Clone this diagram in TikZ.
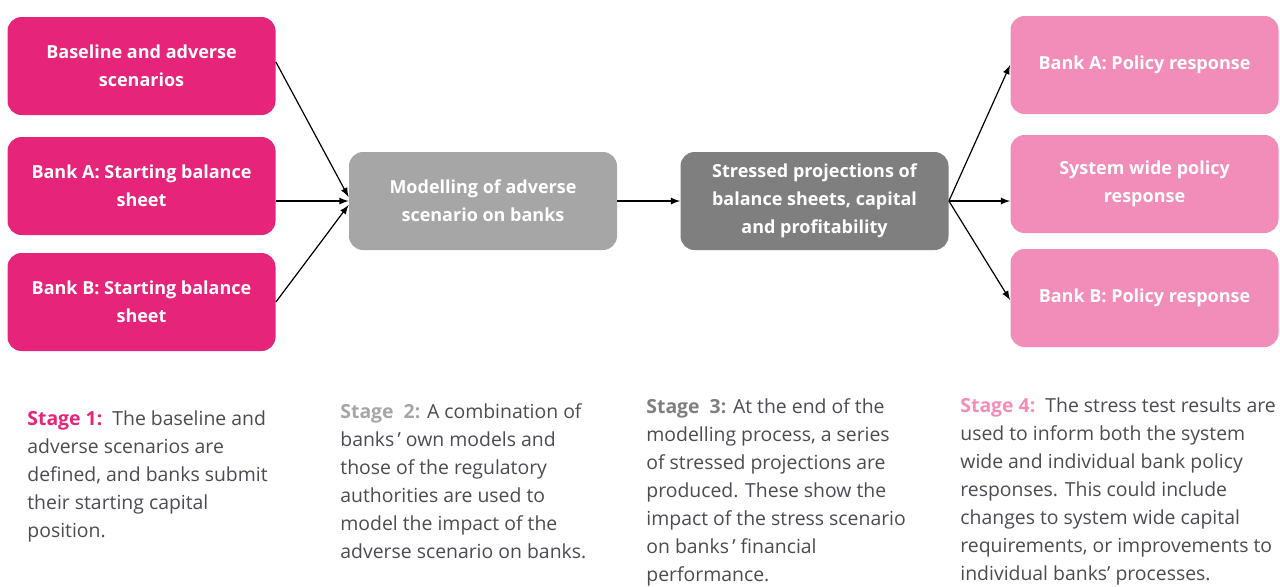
\documentclass[tikz,border=0pt]{standalone}
\usepackage{fontspec}
\setmainfont{Open Sans}
\usepackage{tikz}
\definecolor{stpink}{HTML}{E6247A}
\definecolor{stlight}{HTML}{F28DB9}
\definecolor{stgrey}{HTML}{A6A6A6}
\definecolor{stdark}{HTML}{7F7F7F}
\definecolor{sttext}{HTML}{4B4B53}
\begin{document}
\begin{tikzpicture}[x=0.5pt,y=-0.5pt,
  box/.style={rounded corners=7pt,minimum width=134pt,minimum height=49pt,
    text=white,align=center,font=\bfseries\fontsize{9}{14}\selectfont,inner sep=2pt},
  stagetext/.style={anchor=north west,align=left,inner sep=0pt,text=sttext,
    font=\fontsize{9.7}{14}\selectfont},
  link/.style={-latex,line width=0.6pt}]
\useasboundingbox (0,0) rectangle (1280,586);
\node[box,fill=stpink](scen) at (141.5,66){Baseline and adverse\\scenarios};
\node[box,fill=stpink](bankA) at (141.5,186){Bank A: Starting balance\\sheet};
\node[box,fill=stpink](bankB) at (141.5,302){Bank B: Starting balance\\sheet};
\node[box,fill=stgrey](model) at (483,201){Modelling of adverse\\scenario on banks};
\node[box,fill=stdark](proj) at (814.5,201){Stressed projections of\\balance sheets, capital\\and profitability};
\node[box,fill=stlight](polA) at (1144.5,65){Bank A: Policy response};
\node[box,fill=stlight](polS) at (1144.5,184){System wide policy\\response};
\node[box,fill=stlight](polB) at (1144.5,298){Bank B: Policy response};
\draw[link] (scen.east|-0,62) -- ([yshift=2pt]model.west);
\draw[link] (bankA.east|-model.west) -- (model.west);
\draw[link] (bankB.east|-0,302) -- ([yshift=-2pt]model.west);
\draw[link] (model) -- (proj);
\draw[link] (proj.east) -- (polA.west|-0,65);
\draw[link] (proj.east) -- (polS.west|-proj.east);
\draw[link] (proj.east) -- (polB.west|-0,300);
\node[stagetext](st1) at (27,410){\textcolor{stpink}{\bfseries Stage 1:}\ \ The baseline and\\adverse scenarios are\\defined, and banks submit\\their starting capital\\position.};
\node[stagetext](st2) at (340,403){\textcolor{stgrey}{\bfseries Stage\ \ 2:} A combination of\\banks\,’ own models and\\those of the regulatory\\authorities are used to\\model the impact of the\\adverse scenario on banks.};
\node[stagetext](st3) at (646,398){\textcolor{stdark}{\bfseries Stage\ \ 3:} At the end of the\\modelling process, a series\\of stressed projections are\\produced. These show the\\impact of the stress scenario\\on banks\,’ financial\\performance.};
\node[stagetext](st4) at (960,397){\textcolor{stlight}{\bfseries Stage 4:}\ \ The stress test results are\\used to inform both the system\\wide and individual bank policy\\responses. This could include\\changes to system wide capital\\requirements, or improvements to\\individual banks’ processes.};
\end{tikzpicture}
\end{document}
